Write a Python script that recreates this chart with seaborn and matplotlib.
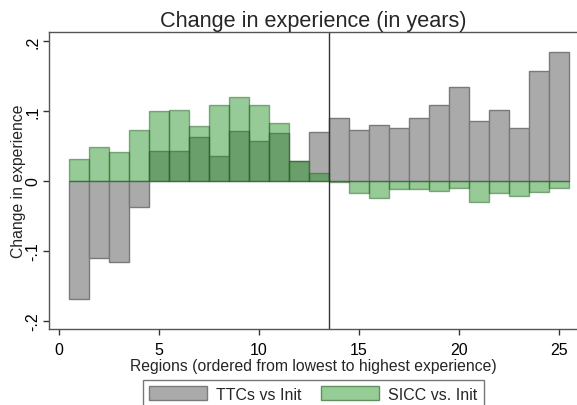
import numpy as np
import pandas as pd
import matplotlib
matplotlib.use("Agg")
import matplotlib.pyplot as plt
import matplotlib.patches as mpatches
import seaborn as sns

# %% data
regions = list(range(1, 26))
ttc_vs_init = [-0.169, -0.110, -0.116, -0.037, 0.042, 0.043, 0.063, 0.035, 0.071,
               0.057, 0.069, 0.028, 0.070, 0.090, 0.073, 0.080, 0.076, 0.090,
               0.108, 0.134, 0.086, 0.101, 0.075, 0.157, 0.184]
sicc_vs_init = [0.031, 0.049, 0.041, 0.072, 0.100, 0.102, 0.079, 0.109, 0.120,
                0.109, 0.082, 0.028, 0.011, -0.002, -0.017, -0.025, -0.011, -0.011,
                -0.015, -0.010, -0.030, -0.017, -0.021, -0.016, -0.010]
split_at = 13.5
y_ticks = [-0.2, -0.1, 0, 0.1, 0.2]
y_ticklabels = ["-.2", "-.1", "0", ".1", ".2"]

df = pd.DataFrame({"region": regions, "ttc": ttc_vs_init, "sicc": sicc_vs_init})

# %% style
sns.set_theme(style="white")
plt.rcParams["font.family"] = ["Liberation Sans", "DejaVu Sans"]

gray = "#aaaaaa"
green = (37 / 255, 146 / 255, 37 / 255)

fig = plt.figure(figsize=(5.77, 4.06), dpi=100)
ax = fig.add_axes([0.085, 0.187, 0.915, 0.732])

sns.barplot(data=df, x="region", y="ttc", native_scale=True, width=1,
            color=gray, saturation=1, edgecolor="#7a7a7a", linewidth=1,
            errorbar=None, ax=ax)
sns.barplot(data=df, x="region", y="sicc", native_scale=True, width=1,
            color=green, saturation=1, alpha=0.48, edgecolor="#1f5a1f", linewidth=1,
            errorbar=None, ax=ax)

ax.axvline(split_at, color="#333333", lw=1)

ax.set_xlim(-0.49, 25.9)
ax.set_ylim(-0.212, 0.213)
ax.set_xticks([0, 5, 10, 15, 20, 25])
ax.set_yticks(y_ticks)
ax.set_yticklabels(y_ticklabels, rotation=90, va="center")
ax.tick_params(axis="both", direction="out", length=4, width=1, color="#333333",
               labelsize=11.5, labelcolor="black", left=True, bottom=True)
ax.tick_params(axis="x", pad=5)
ax.tick_params(axis="y", pad=2.5)

for s in ["left", "bottom", "top"]:
    ax.spines[s].set_color("#555555")
    ax.spines[s].set_linewidth(1)
ax.spines["right"].set_visible(False)

ax.set_xlabel("Regions (ordered from lowest to highest experience)", fontsize=11.3, labelpad=1)
ax.set_ylabel("Change in experience", fontsize=11.3, labelpad=-1)
ax.set_title("Change in experience (in years)", fontsize=15.6, pad=4)

handles = [mpatches.Patch(facecolor=gray, edgecolor="#7a7a7a", label="TTCs vs Init"),
           mpatches.Patch(facecolor="#96cc96", edgecolor="#5f8f5f", label="SICC vs. Init")]
fig.legend(handles=handles, loc="upper center", bbox_to_anchor=(0.543, 0.0616), ncol=2,
           frameon=True, fancybox=False, edgecolor="#555555", fontsize=11.5,
           handlelength=3.6, handleheight=0.95, columnspacing=1.2, borderpad=0.4,
           borderaxespad=0, handletextpad=0.6)

fig.savefig("out.png", dpi=100)
